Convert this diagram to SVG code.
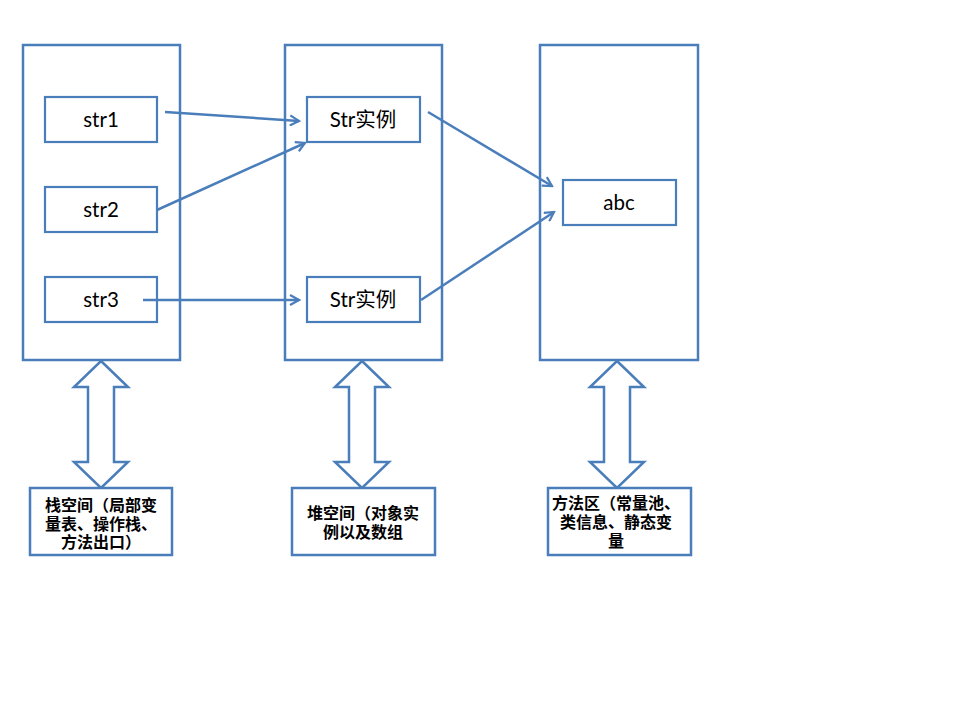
<svg xmlns="http://www.w3.org/2000/svg" width="960" height="720" viewBox="0 0 960 720">
<defs>
<style>
.box{fill:#fff;stroke:#4a7ebb;stroke-width:2.5}
.inner{fill:#fff;stroke:#4a7ebb;stroke-width:2.2}
.dbl{fill:#fff;stroke:#4a7ebb;stroke-width:2.5;stroke-linejoin:miter}
.lbl{font-family:Lato,"Open Sans","Noto Sans CJK SC",sans-serif;font-size:20.5px;fill:#000;text-anchor:middle}
.cap{font-family:"Noto Sans CJK SC",sans-serif;font-size:16px;font-weight:bold;fill:#000;text-anchor:middle}
.conn{stroke:#4a7ebb;stroke-width:2.5;fill:none;marker-end:url(#ah)}
</style>
<marker id="ah" viewBox="0 0 12 12" refX="10" refY="6" markerWidth="12" markerHeight="12" markerUnits="userSpaceOnUse" orient="auto">
<path d="M1,1 L10,6 L1,11" fill="none" stroke="#4a7ebb" stroke-width="2.2"/>
</marker>
</defs>
<rect width="960" height="720" fill="#fff"/>
<g id="stack">
<rect class="box" x="23" y="45" width="157" height="315"/>
</g>
<g id="heap">
<rect class="box" x="285" y="45" width="157" height="315"/>
</g>
<g id="method">
<rect class="box" x="540" y="45" width="158" height="315"/>
</g>
<g id="str1"><rect class="inner" x="45" y="97" width="112" height="45"/><text class="lbl" x="101" y="127">str1</text></g>
<g id="str2"><rect class="inner" x="45" y="187" width="112" height="45"/><text class="lbl" x="101" y="217">str2</text></g>
<g id="str3"><rect class="inner" x="45" y="277" width="112" height="45"/><text class="lbl" x="101" y="307">str3</text></g>
<g id="inst1"><rect class="inner" x="307" y="97" width="113" height="45"/><text class="lbl" x="363" y="127">Str实例</text></g>
<g id="inst2"><rect class="inner" x="307" y="277" width="113" height="45"/><text class="lbl" x="363" y="307">Str实例</text></g>
<g id="abc"><rect class="inner" x="563" y="180" width="113" height="45"/><text class="lbl" x="619" y="210">abc</text></g>
<g id="connectors">
<line class="conn" x1="165" y1="112" x2="299" y2="121"/>
<line class="conn" x1="157" y1="210" x2="305" y2="143"/>
<line class="conn" x1="143" y1="300" x2="299" y2="300"/>
<line class="conn" x1="428" y1="112" x2="552" y2="186"/>
<line class="conn" x1="421" y1="300" x2="554" y2="212"/>
</g>
<g id="dbl1"><polygon class="dbl" points="101,361 128,387 114,387 114,462 128,462 101,488 74,462 88,462 88,387 74,387"/></g>
<g id="dbl2"><polygon class="dbl" points="362,361 389,387 375,387 375,462 389,462 362,488 335,462 349,462 349,387 335,387"/></g>
<g id="dbl3"><polygon class="dbl" points="617,361 644,387 630,387 630,462 644,462 617,488 590,462 604,462 604,387 590,387"/></g>
<g id="cap1"><rect class="box" x="30" y="488" width="142" height="67"/>
<text class="cap"><tspan x="101" y="511">栈空间（局部变</tspan><tspan x="101" y="529.5">量表、操作栈、</tspan><tspan x="101" y="548">方法出口）</tspan></text></g>
<g id="cap2"><rect class="box" x="292" y="488" width="143" height="67"/>
<text class="cap"><tspan x="363" y="519">堆空间（对象实</tspan><tspan x="363" y="537.5">例以及数组</tspan></text></g>
<g id="cap3"><rect class="box" x="548" y="488" width="143" height="67"/>
<text class="cap"><tspan x="616" y="509">方法区（常量池、</tspan><tspan x="616" y="528">类信息、静态变</tspan><tspan x="616" y="547">量</tspan></text></g>
</svg>
